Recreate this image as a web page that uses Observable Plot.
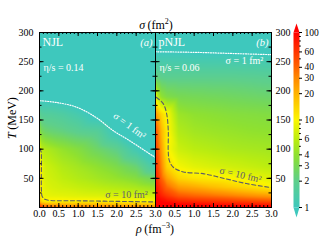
<!DOCTYPE html>
<html><head><meta charset="utf-8">
<script src="https://cdn.jsdelivr.net/npm/d3@7"></script>
<script src="https://cdn.jsdelivr.net/npm/@observablehq/plot@0.6"></script>
<style>
body{margin:0;background:#fff;}
#wrap{position:relative;width:320px;height:240px;overflow:hidden;font-family:"Liberation Serif",serif;color:#000;}
#wrap svg{position:absolute;top:0;overflow:visible;}
.lbl{position:absolute;font-size:12px;line-height:12px;white-space:nowrap;}
.lbl sup{font-size:8px;line-height:0;}
</style></head><body><div id="wrap"></div>
<script>
// ---- grid (rho in fm^-3, T in MeV) ----
const rhoGrid = [0, 0.05, 0.15, 0.3, 0.6, 1.0, 1.5, 2.0, 2.5, 3.0];
const TGrid = [0, 5, 10, 20, 35, 50, 70, 100, 130, 160, 190, 220, 260, 300];
// sigma (fm^2), one row per T value, one column per rho value
const sigmaNJL = [
  [100, 60, 50, 45, 42, 40, 38, 36, 34, 32],
  [50, 30, 25, 22, 21, 20, 20, 19, 18.5, 18],
  [25, 14, 11.5, 11, 11, 11, 11, 10.8, 10.5, 10],
  [16, 9.2, 8.8, 8.5, 8.3, 8, 7.8, 7.5, 7.2, 7],
  [15, 9, 8, 7.5, 7, 6.5, 6, 5.5, 5, 4.3],
  [15, 9, 7.5, 7, 6.2, 5.5, 4.8, 4.2, 3.5, 2.6],
  [15, 9, 7, 6.5, 5.5, 4.8, 4.0, 3.2, 2.4, 1.23],
  [10, 6, 5.5, 5, 4.2, 3.5, 2.6, 2.0, 1.12, 0.85],
  [4.5, 3.0, 2.6, 2.4, 2.2, 1.9, 1.7, 0.95, 0.8, 0.65],
  [2.0, 1.7, 1.6, 1.6, 1.47, 1.23, 0.85, 0.7, 0.6, 0.55],
  [0.87, 0.87, 0.87, 0.86, 0.8, 0.7, 0.6, 0.55, 0.5, 0.5],
  [0.6, 0.6, 0.6, 0.6, 0.6, 0.6, 0.55, 0.5, 0.5, 0.5],
  [0.5, 0.5, 0.5, 0.5, 0.5, 0.5, 0.5, 0.5, 0.5, 0.5],
  [0.5, 0.5, 0.5, 0.5, 0.5, 0.5, 0.5, 0.5, 0.5, 0.5]
];
const sigmaPNJL = [
  [200, 180, 160, 150, 140, 130, 125, 120, 115, 110],
  [150, 130, 120, 110, 100, 95, 90, 85, 80, 75],
  [120, 110, 100, 90, 75, 70, 65, 60, 55, 50],
  [100, 90, 75, 60, 45, 40, 36, 32, 28, 25],
  [90, 75, 55, 38, 25, 22, 18, 15, 12.5, 10.5],
  [80, 65, 42, 24, 14, 12, 11, 10, 8.8, 8],
  [70, 55, 32, 14, 9.5, 8.2, 7.5, 7, 6.5, 6],
  [60, 45, 25, 10.5, 6.8, 6.0, 5.6, 5.2, 5.0, 4.8],
  [50, 38, 20, 11, 5.5, 4.8, 4.5, 4.3, 4.1, 4.0],
  [30, 22, 14, 10, 4.5, 4.0, 3.8, 3.6, 3.5, 3.4],
  [10, 6, 4, 3.3, 3.0, 2.9, 2.8, 2.7, 2.6, 2.5],
  [2.5, 2.3, 2.1, 2.0, 2.0, 2.0, 2.0, 2.0, 1.95, 1.9],
  [1.1, 1.1, 1.1, 1.1, 1.1, 1.08, 1.07, 1.06, 1.05, 1.04],
  [0.5, 0.5, 0.5, 0.5, 0.5, 0.5, 0.5, 0.5, 0.5, 0.5]
];
// contour lines: [rho, T]
const c1NJL = [[0.02,183],[0.44,180],[0.96,172],[1.47,154],[1.9,132],[2.32,115],[2.92,89],[3.0,86]];
const c10NJL = [[0.0,101],[0.04,96],[0.05,85],[0.05,30],[0.07,19],[0.14,14],[0.3,12],[1.0,11.5],[2.0,10.5],[3.0,9.5]];
const c1PNJL = [[0.0,267],[1.0,266],[2.0,264],[3.0,262]];
const c10PNJL = [[0.02,189],[0.2,178],[0.29,160],[0.33,132],[0.33,95],[0.36,80],[0.46,69],[0.72,61],[1.23,58],[1.83,49],[2.35,41],[3.0,34]];
// colour bar
const cbarTicks = [1, 2, 3, 4, 6, 10, 20, 30, 40, 60, 100];
const cbarMinor = [5, 7, 8, 9, 50, 70, 80, 90];
const cbarColors = ["#3ec8bd", "#5ecf8c", "#78d952", "#8fe130", "#bbed10", "#fbf600", "#ffb400", "#ff8a00", "#ff6400", "#ff3600", "#ff0000"];
const xTicks = [0, 0.5, 1.0, 1.5, 2.0, 2.5, 3.0];
const yTicks = [50, 100, 150, 200, 250, 300];

const font = "Liberation Serif";
const H = 240, MT = 32, MB = 33;
const frameH = H - MT - MB, frameW = 116;
const colorScale = {type: "linear", domain: cbarTicks.map(Math.log10), range: cbarColors, clamp: true};

function gridData(sig) {
  const out = [];
  TGrid.forEach((T, i) => rhoGrid.forEach((rho, j) => out.push({rho, T, v: Math.log10(sig[i][j])})));
  return out;
}
function tickMarks() {
  const xMin = d3.range(0, 3.0001, 0.1), xMaj = xTicks;
  const yMin = d3.range(0, 300.001, 25), yMaj = d3.range(0, 300.001, 50);
  return [
    Plot.tickX(xMin, {x: d => d, insetTop: frameH - 2}),
    Plot.tickX(xMaj, {x: d => d, insetTop: frameH - 4}),
    Plot.tickX(xMin, {x: d => d, insetBottom: frameH - 2}),
    Plot.tickX(xMaj, {x: d => d, insetBottom: frameH - 4}),
    Plot.tickY(yMin, {y: d => d, insetRight: frameW - 2.5}),
    Plot.tickY(yMaj, {y: d => d, insetRight: frameW - 4.5}),
    Plot.tickY(yMin, {y: d => d, insetLeft: frameW - 2.5}),
    Plot.tickY(yMaj, {y: d => d, insetLeft: frameW - 4.5})
  ];
}
function panel(cfg) {
  const p = Plot.plot({
    width: cfg.width, height: H,
    marginTop: MT, marginBottom: MB, marginLeft: cfg.ml, marginRight: cfg.mr,
    style: {fontFamily: font, fontSize: "10px", background: "transparent", overflow: "visible"},
    x: {domain: [0, 3], label: null},
    y: {domain: [0, 300], label: null},
    color: colorScale,
    marks: [
      Plot.raster(gridData(cfg.sig), {x: "rho", y: "T", fill: "v", interpolate: "barycentric", x1: 0, x2: 3, y1: 0, y2: 300}),
      Plot.line(cfg.c1, {x: d => d[0], y: d => d[1], stroke: "white", strokeWidth: 1.2, strokeDasharray: "1,1.5", curve: "catmull-rom"}),
      Plot.line(cfg.c10, {x: d => d[0], y: d => d[1], stroke: "#5c5c68", strokeWidth: 1.1, strokeDasharray: "4,2.5", curve: "catmull-rom"}),
      Plot.text([cfg.name], {frameAnchor: "top-left", dx: 3, dy: 5, lineAnchor: "top", textAnchor: "start", fill: "white", fontSize: 12}),
      Plot.text([cfg.tag], {frameAnchor: "top-right", dx: -3, dy: 6, lineAnchor: "top", textAnchor: "end", fill: "white", fontSize: 10.5, fontStyle: "italic"}),
      Plot.text([cfg.eta], {frameAnchor: "top-left", dx: 4, dy: 35, lineAnchor: "middle", textAnchor: "start", fill: "white", fontSize: 10}),
      Plot.text([cfg.l1], {x: d => d.x, y: d => d.y, text: d => d.t, rotate: cfg.l1.r, fill: "white", fontSize: 10}),
      Plot.text([cfg.l10], {x: d => d.x, y: d => d.y, text: d => d.t, rotate: cfg.l10.r, fill: "#60606c", fontSize: 10}),
      ...tickMarks(),
      Plot.frame({stroke: "#000", strokeWidth: 1}),
      Plot.axisX(cfg.xt, {anchor: "bottom", tickSize: 0, tickPadding: 2.5, tickFormat: d3.format(".1f"), fontSize: 10, label: null}),
      Plot.axisY(yTicks, {anchor: cfg.yAnchor, tickSize: 0, tickPadding: cfg.yAnchor === "left" ? 6 : 4, fontSize: 10, label: null})
    ]
  });
  p.style.left = cfg.left + "px";
  return p;
}
const wrap = document.getElementById("wrap");
wrap.appendChild(panel({
  left: 0, width: 156, ml: 39, mr: 1, sig: sigmaNJL, c1: c1NJL, c10: c10NJL,
  name: "NJL", tag: "(a)", eta: "η/s = 0.14",
  l1: {x: 2.33, y: 140, t: "σ = 1 fm²", r: 36},
  l10: {x: 2.25, y: 21, t: "σ = 10 fm²", r: 0},
  xt: xTicks, yAnchor: "left"
}));
wrap.appendChild(panel({
  left: 154, width: 139, ml: 1, mr: 22, sig: sigmaPNJL, c1: c1PNJL, c10: c10PNJL,
  name: "pNJL", tag: "(b)", eta: "η/s = 0.06",
  l1: {x: 2.3, y: 251, t: "σ = 1 fm²", r: 0},
  l10: {x: 2.2, y: 56, t: "σ = 10 fm²", r: 13},
  xt: xTicks.slice(1), yAnchor: "right"
}));

// colour bar
const cb = Plot.plot({
  width: 35, height: H, marginTop: MT, marginBottom: MB, marginLeft: 8, marginRight: 21,
  style: {fontFamily: font, fontSize: "9.5px", background: "transparent", overflow: "visible"},
  x: {domain: [0, 1], axis: null},
  y: {type: "log", domain: [1, 100], axis: null},
  color: colorScale,
  marks: [
    Plot.raster({fill: (x, y) => Math.log10(y), x1: 0, x2: 1, y1: 1, y2: 100}),
    Plot.line([[0, 100], [0.5, 100 * 1.27], [1, 100]], {x: d => d[0], y: d => d[1], fill: "#ff0000", stroke: "none"}),
    Plot.line([[0, 1], [0.5, 1 / 1.3], [1, 1]], {x: d => d[0], y: d => d[1], fill: cbarColors[0], stroke: "none"}),
    Plot.ruleY(cbarTicks, {y: d => d, x1: 1, x2: 1.5, stroke: "#000"}),
    Plot.ruleY(cbarMinor, {y: d => d, x1: 1, x2: 1.3, stroke: "#000"}),
    Plot.text(cbarTicks, {y: d => d, text: d => String(d), frameAnchor: "right", dx: 5, textAnchor: "start", fontSize: 9.5})
  ]
});
cb.style.left = "285px";
wrap.appendChild(cb);

// HTML labels
function addLabel(html, css) {
  const d = document.createElement("div");
  d.className = "lbl"; d.innerHTML = html;
  Object.assign(d.style, css);
  wrap.appendChild(d);
}
addLabel("<i>σ</i>&#8201;(fm<sup>2</sup>)", {left: "156px", top: "19px", transform: "translateX(-50%)"});
addLabel("<i>ρ</i>&#8201;(fm<sup>−3</sup>)", {left: "155px", top: "223px", transform: "translateX(-50%)"});
addLabel("<i>T</i>&#8201;(MeV)", {left: "12px", top: "118px", transform: "translate(-50%,-50%) rotate(-90deg)"});
</script></body></html>
